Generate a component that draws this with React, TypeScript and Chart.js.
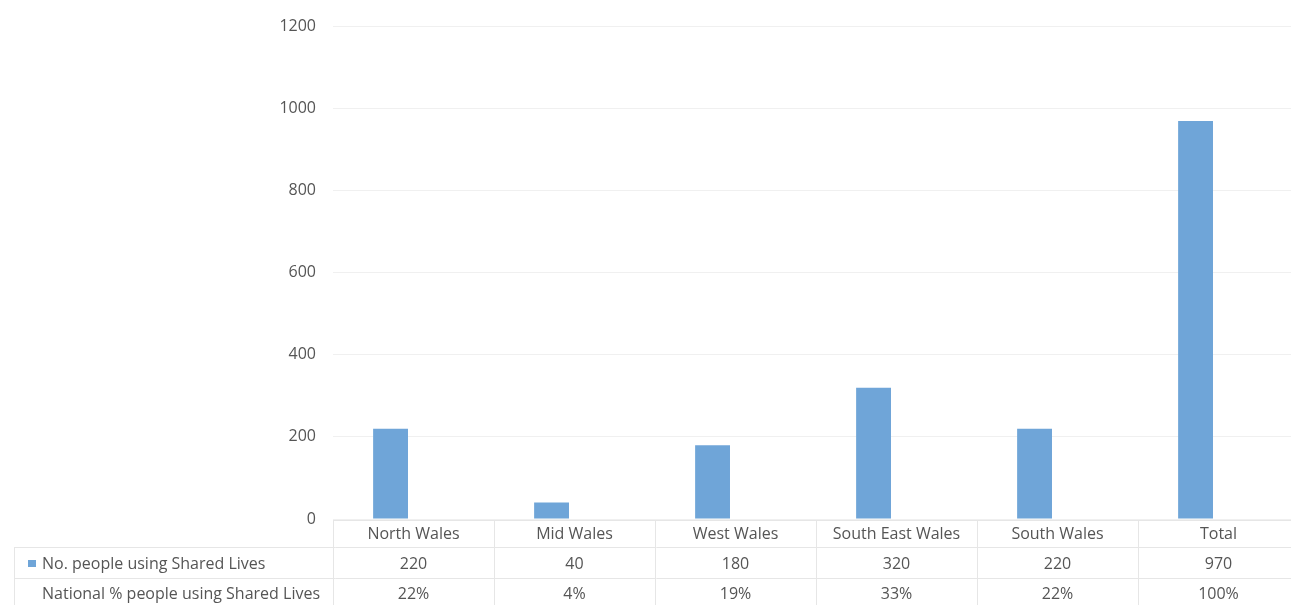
import React, { useEffect, useRef } from "react";
import { Chart, registerables } from "chart.js";

Chart.register(...registerables);

const categories = ["North Wales", "Mid Wales", "West Wales", "South East Wales", "South Wales", "Total"];
const peopleCounts = [220, 40, 180, 320, 220, 970];
const nationalPct = [22, 4, 19, 33, 22, 100];
const yTicks = [0, 200, 400, 600, 800, 1000, 1200];
const seriesNames = ["No. people using Shared Lives", "National % people using Shared Lives"];

const BAR_COLOR = "#6fa5d8";
const TEXT_COLOR = "#555555";
const LINE_COLOR = "#e6e6e6";
const FONT_FAMILY = "'Open Sans', Lato, sans-serif";
const FONT_SIZE = 16;

const dataTablePlugin = {
  id: "dataTable",
  afterDraw(chart: any) {
    const ctx = chart.ctx as CanvasRenderingContext2D;
    const { left, right, bottom } = chart.chartArea;
    const n = categories.length;
    const colW = (right - left) / n;
    const rowLines = [bottom + 1, bottom + 28, bottom + 59, bottom + 88];
    const rowCenters = [bottom + 15, bottom + 45, bottom + 75];
    ctx.save();
    ctx.strokeStyle = LINE_COLOR;
    ctx.lineWidth = 1;
    ctx.beginPath();
    ctx.moveTo(left, rowLines[0] + 0.5);
    ctx.lineTo(right, rowLines[0] + 0.5);
    for (let i = 1; i < rowLines.length; i++) {
      ctx.moveTo(14, rowLines[i] + 0.5);
      ctx.lineTo(right, rowLines[i] + 0.5);
    }
    for (let i = 0; i <= n; i++) {
      const x = Math.round(left + i * colW) + 0.5;
      ctx.moveTo(x, rowLines[0]);
      ctx.lineTo(x, rowLines[3]);
    }
    ctx.moveTo(14.5, rowLines[1]);
    ctx.lineTo(14.5, rowLines[3]);
    ctx.stroke();

    ctx.fillStyle = TEXT_COLOR;
    ctx.font = `${FONT_SIZE}px ${FONT_FAMILY}`;
    ctx.textBaseline = "middle";
    ctx.textAlign = "center";
    for (let i = 0; i < n; i++) {
      const cx = left + (i + 0.5) * colW;
      ctx.fillText(categories[i], cx, rowCenters[0]);
      ctx.fillText(String(peopleCounts[i]), cx, rowCenters[1]);
      ctx.fillText(nationalPct[i] + "%", cx, rowCenters[2]);
    }
    ctx.textAlign = "left";
    ctx.fillStyle = BAR_COLOR;
    ctx.fillRect(28, rowCenters[1] - 4, 8, 7);
    ctx.fillStyle = TEXT_COLOR;
    ctx.fillText(seriesNames[0], 42, rowCenters[1]);
    ctx.fillText(seriesNames[1], 42, rowCenters[2]);
    ctx.restore();
  },
};

export default function App() {
  const canvasRef = useRef<HTMLCanvasElement | null>(null);

  useEffect(() => {
    if (!canvasRef.current) return;
    const chart = new Chart(canvasRef.current, {
      type: "bar",
      data: {
        labels: categories,
        datasets: [
          {
            label: seriesNames[0],
            data: peopleCounts,
            backgroundColor: BAR_COLOR,
            barPercentage: 0.76,
            categoryPercentage: 0.57,
          },
          {
            label: seriesNames[1],
            data: nationalPct.map((p) => p / 100),
            backgroundColor: "rgba(0,0,0,0)",
            barPercentage: 0.76,
            categoryPercentage: 0.57,
          },
        ],
      },
      options: {
        responsive: false,
        animation: false,
        events: [],
        layout: { padding: { top: 23, bottom: 86, left: 0, right: 0 } },
        plugins: {
          legend: { display: false },
          tooltip: { enabled: false },
        },
        scales: {
          x: { display: false },
          y: {
            min: 0,
            max: 1200,
            afterFit: (s: any) => {
              s.width = 333;
            },
            afterBuildTicks: (s: any) => {
              s.ticks = yTicks.map((v) => ({ value: v }));
            },
            border: { display: false },
            grid: { color: "#f0f0f0", drawTicks: false },
            ticks: {
              padding: 17,
              color: TEXT_COLOR,
              font: { family: FONT_FAMILY, size: FONT_SIZE },
              callback: (v: any) => String(v),
            },
          },
        },
      },
      plugins: [dataTablePlugin],
    });
    return () => chart.destroy();
  }, []);

  return (
    <div
      style={{
        position: "fixed",
        left: 0,
        top: 0,
        width: 1291,
        height: 605,
        overflow: "hidden",
        background: "#fff",
      }}
    >
      <canvas ref={canvasRef} width={1299} height={605} style={{ display: "block" }} />
    </div>
  );
}
